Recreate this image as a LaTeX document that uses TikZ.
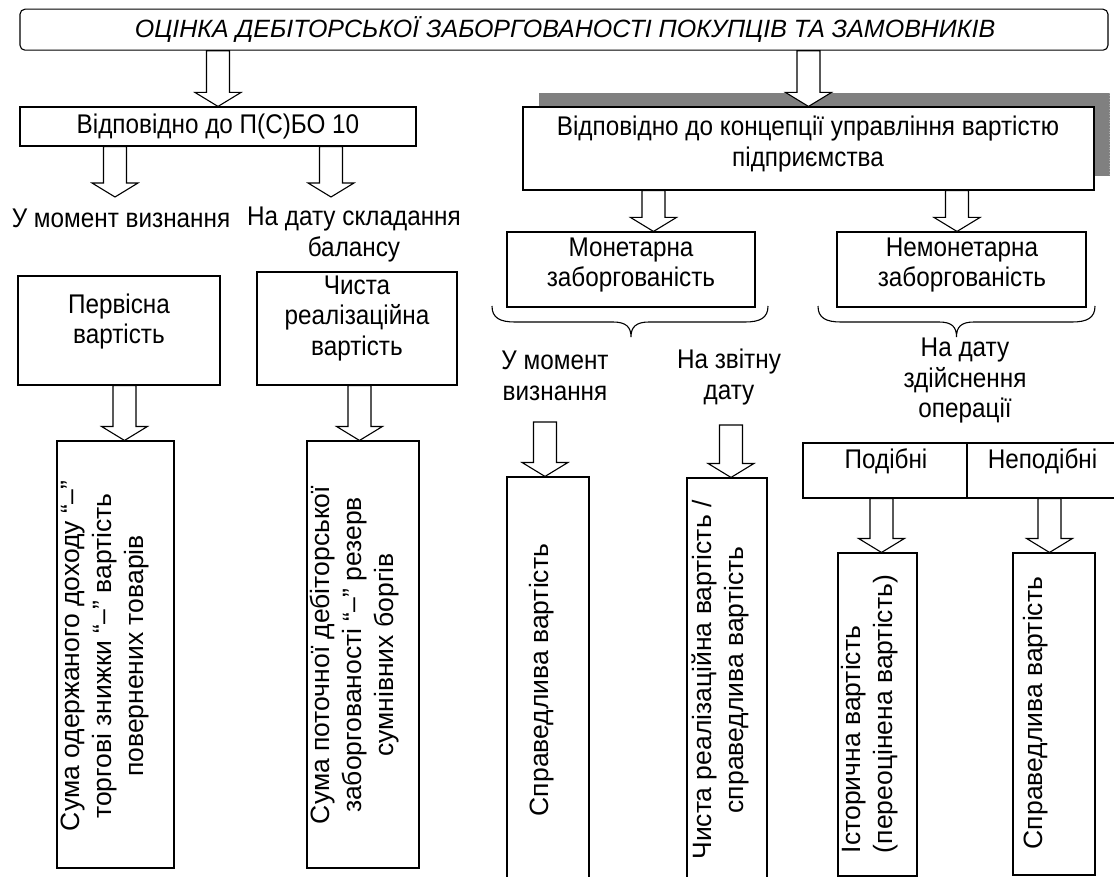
\documentclass[tikz,border=0pt]{standalone}
\usepackage{fontspec}
\setmainfont{Liberation Sans}
\newfontfamily\hfam{Liberation Sans}[FakeStretch=0.9]
\usetikzlibrary{calc}
\newcommand\bodyfont{\hfam\fontsize{27}{30.5}\selectfont}
\newcommand\rotfont{\fontsize{26.5}{32}\selectfont}
\newcommand\titlefont{\fontsize{25}{28}\selectfont\itshape}
\tikzset{
  bx/.style={draw, line width=1.1pt, inner sep=0pt, fill=white},
  txt/.style={inner sep=0pt, align=center, font=\bodyfont},
  rtxt/.style={inner sep=0pt, align=center, font=\rotfont, rotate=90},
  blk/.style={draw, fill=white, line width=1.1pt, line join=miter},
  brc/.style={draw, line width=1.1pt},
}
% block arrow: #1 = x (px), #2 = start point, #3 = tip point
\newcommand\barr[3]{%
  \draw[blk] let \p1=#2, \p2=#3 in
    (#1-11.5,\y1) -- (#1+11.5,\y1) -- (#1+11.5,\y2+14pt) -- (#1+23,\y2+14pt)
    -- (#1,\y2) -- (#1-23,\y2+14pt) -- (#1-11.5,\y2+14pt) -- cycle;}
\begin{document}
\begin{tikzpicture}[x=1pt,y=-1pt]
\useasboundingbox (0,0) rectangle (1114,877);
\clip (0,0) rectangle (1114,877);

% title
\node[bx, rounded corners=5pt, minimum width=1088pt, minimum height=41pt] (title) at (564,29.7) {};
\node[inner sep=0pt, font=\titlefont] (titlet) at (565,30) {ОЦІНКА ДЕБІТОРСЬКОЇ ЗАБОРГОВАНОСТІ ПОКУПЦІВ ТА ЗАМОВНИКІВ};

% level 2
\node[bx, minimum width=396pt, minimum height=39pt] (b1) at (218,126.5) {};
\node[txt] (b1t) at (218,127) {Відповідно до П(С)БО 10};

\node[fill=black!50, inner sep=0pt, minimum width=571pt, minimum height=83pt] (b2s) at (824,134.5) {};
\draw[black!35, dotted, line width=0.7pt] (b2s.north east) -- (b2s.south east);
\node[bx, minimum width=571pt, minimum height=83pt] (b2) at (808.5,148.5) {};
\node[txt] (b2t) at (808,144) {Відповідно до концепції управління вартістю\\підприємства};

\barr{218}{(title.south)}{(b1.north)}
\barr{808.5}{(title.south)}{(b2.north)}

% left branch
\coordinate (l1tip) at (115,197);
\coordinate (l2tip) at (331,197);
\barr{115}{(b1.south)}{(l1tip)}
\barr{331}{(b1.south)}{(l2tip)}
\node[txt] (l1) at (121,218) {У момент визнання};
\node[txt] (l2) at (354,234.5) {На дату складання\\балансу};

\node[bx, minimum width=202pt, minimum height=109pt] (p) at (119,330.5) {};
\node[txt] (pt) at (119,321.5) {Первісна\\вартість};
\node[bx, minimum width=200pt, minimum height=113pt] (c) at (357,328.5) {};
\node[txt] (ct) at (357,318.5) {Чиста\\реалізаційна\\вартість};

\node[bx, minimum width=117pt, minimum height=427pt] (t1) at (115.5,654.5) {};
\node[rtxt] (t1t) at (105,656) {Сума одержаного доходу “–”\\торгові знижки “–” вартість\\повернених товарів};
\node[bx, minimum width=112pt, minimum height=427pt] (t2) at (363,654.5) {};
\node[rtxt] (t2t) at (355,655) {Сума поточної дебіторської\\заборгованості “–” резерв\\сумнівних боргів};

\barr{124.5}{(p.south)}{(t1.north)}
\barr{359.5}{(c.south)}{(t2.north)}

% right branch
\node[bx, minimum width=248pt, minimum height=75pt] (m) at (631,269.5) {};
\node[txt] (mt) at (631,265) {Монетарна\\заборгованість};
\node[bx, minimum width=249pt, minimum height=75pt] (n) at (961.5,269.5) {};
\node[txt] (nt) at (962,265) {Немонетарна\\заборгованість};

\barr{653.5}{(b2.south)}{(m.north)}
\barr{957}{(b2.south)}{(n.north)}

% braces
\draw[brc] (492,306) .. controls (492,318) and (500,322) .. (515,322) -- (613,322)
  .. controls (626,322) and (631,327) .. (631,337)
  .. controls (631,327) and (636,322) .. (649,322) -- (745,322)
  .. controls (760,322) and (768,318) .. (768,306);
\draw[brc] (818,306) .. controls (818,318) and (826,322) .. (841,322) -- (939,322)
  .. controls (952,322) and (956.5,327) .. (956.5,337)
  .. controls (956.5,327) and (961,322) .. (974,322) -- (1072,322)
  .. controls (1087,322) and (1095,318) .. (1095,306);

\node[txt] (lm1) at (555,376) {У момент\\визнання};
\node[txt] (lm2) at (729,377) {На звітну\\дату};
\node[txt] (lm3) at (965,381) {На дату\\здійснення\\операції};

\coordinate (a9s) at (545,422);
\coordinate (a10s) at (731,425);

\node[bx, minimum width=82pt, minimum height=407pt] (t3) at (548,680.5) {};
\node[rtxt] (t3t) at (542,680) {Справедлива вартість};
\node[bx, minimum width=80pt, minimum height=406pt] (t4) at (727,681) {};
\node[rtxt] (t4t) at (720,680) {Чиста реалізаційна вартість /\\справедлива вартість};

\barr{545}{(a9s)}{(t3.north)}
\barr{731}{(a10s)}{(t4.north)}

\node[bx, minimum width=164pt, minimum height=55pt] (pb) at (885,470.5) {};
\node[txt] (pbt) at (886,461) {Подібні};
\node[bx, minimum width=151pt, minimum height=55pt] (nb) at (1042.5,470.5) {};
\node[txt] (nbt) at (1042.5,461) {Неподібні};

\node[bx, minimum width=79pt, minimum height=323pt] (t5) at (877.5,714.5) {};
\node[rtxt, align=left] (t5t) at (870,714) {Історична вартість\\(переоцінена вартість)};
\node[bx, minimum width=82pt, minimum height=322pt] (t6) at (1054,714) {};
\node[rtxt] (t6t) at (1036,713) {Справедлива вартість};

\barr{881.5}{(pb.south)}{(t5.north)}
\barr{1049.5}{(nb.south)}{(t6.north)}
\end{tikzpicture}
\end{document}
